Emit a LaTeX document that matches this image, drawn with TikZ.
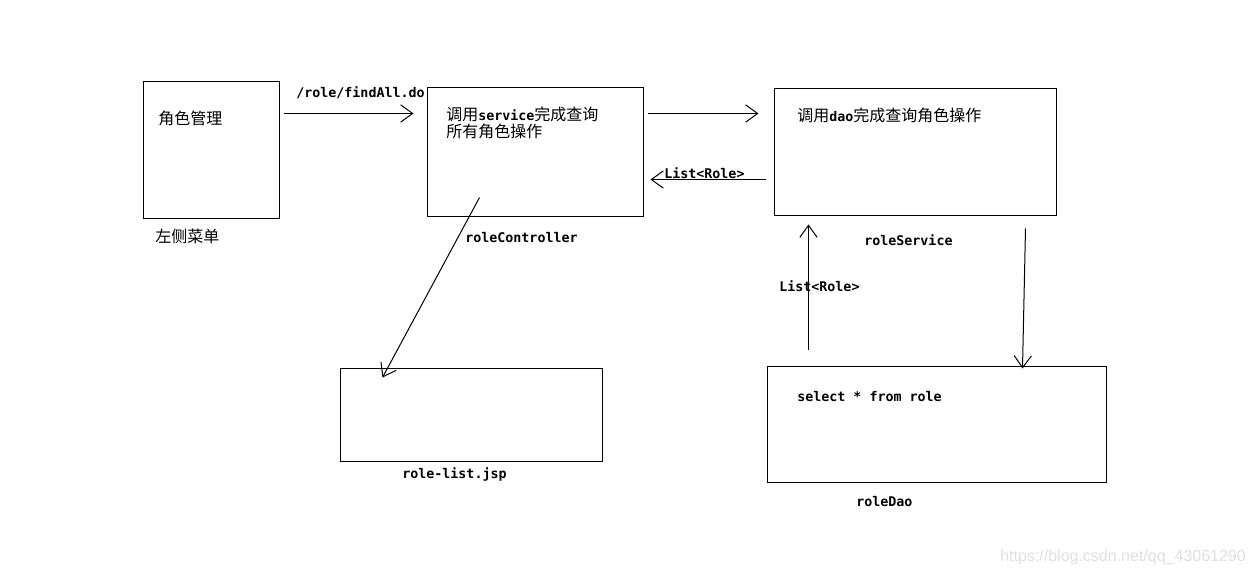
\documentclass[tikz,border=0pt]{standalone}
\usepackage{fontspec}
\setmonofont{DejaVu Sans Mono}
\setsansfont{Liberation Sans}
\newfontfamily\cjk{Noto Sans CJK SC}
\usetikzlibrary{arrows.meta,fit,positioning}

\begin{document}
\begin{tikzpicture}[x=0.75pt, y=-0.75pt,
    box/.style={rectangle, draw=black, line width=0.75pt, inner sep=0pt},
    cntxt/.style={anchor=west, inner sep=0pt, font=\cjk\fontsize{12}{14}\selectfont},
    code/.style={anchor=west, inner sep=0pt, font=\ttfamily\bfseries\fontsize{10}{12}\selectfont},
    arrow/.style={-{Straight Barb[length=9pt, width=13pt]}, line width=0.75pt}
  ]
    \fill[white] (0,0) rectangle (1253,577);
    \useasboundingbox (0,0) rectangle (1253,577);

    % Boxes
    \node[box, fit={(143,82) (279,219)}] (menu) {};
    \node[box, fit={(427,88) (643,217)}] (ctrl) {};
    \node[box, fit={(774,89) (1056,216)}] (svc) {};
    \node[box, fit={(340,368) (602,461)}] (jsp) {};
    \node[box, fit={(767,366) (1106,482)}] (dao) {};

    % Texts in the boxes
    \node[cntxt] (menutxt) at (158,118) {角色管理};
    \node[cntxt] (ctrltxta) at (446,114) {调用{\ttfamily\bfseries\fontsize{10}{12}\selectfont service}完成查询};
    \node[cntxt] (ctrltxtb) at (446,131) {所有角色操作};
    \node[cntxt] (svctxt) at (797,115) {调用{\ttfamily\bfseries\fontsize{10}{12}\selectfont dao}完成查询角色操作};
    \node[code] (daotxt) at (797,397) {select * from role};

    % Names under the boxes
    \node[cntxt] (menulbl) at (155,236) {左侧菜单};
    \node[code] (ctrllbl) at (465,238) {roleController};
    \node[code] (svclbl) at (864,240) {roleService};
    \node[code] (jsplbl) at (402,474) {role-list.jsp};
    \node[code] (daolbl) at (856,502) {roleDao};

    % Connections
    \draw[arrow] ([shift={(4,32)}]menu.north east) -- ([shift={(-13,26)}]ctrl.north west);
    \node[code] (urllbl) at (296,93) {/role/findAll.do};
    \draw[arrow] ([shift={(4,26)}]ctrl.north east) -- ([shift={(-15,25)}]svc.north west);
    \draw[arrow] ([shift={(-8,91)}]svc.north west) -- ([shift={(7,92)}]ctrl.north east);
    \node[code] (retlbla) at (664,173) {List<Role>};
    \draw[arrow] ([shift={(53,-20)}]ctrl.south west) -- ([shift={(43,10)}]jsp.north west);
    \draw[arrow] ([shift={(42,-16)}]dao.north west) -- ([shift={(35,8)}]svc.south west);
    \node[code] (retlblb) at (779,286) {List<Role>};
    \draw[arrow] ([shift={(-31,12)}]svc.south east) -- ([shift={(256,3)}]dao.north west);

    % Watermark
    \node[anchor=west, inner sep=0pt, text=black!12, font=\sffamily\fontsize{12}{14}\selectfont] (mark) at (1000,557) {https://blog.csdn.net/qq\_43061290};
  \end{tikzpicture}
\end{document}
